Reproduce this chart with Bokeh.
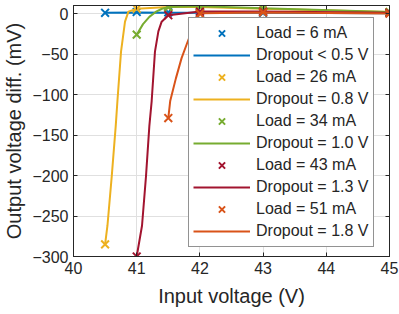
from bokeh.plotting import figure
from bokeh.models import (Range1d, FixedTicker, LinearAxis, Legend, LegendItem,
                          CustomLabelingPolicy)
from bokeh.embed import file_html
from bokeh.resources import INLINE

# ---- data ----
x_ticks = [40, 41, 42, 43, 44, 45]
y_ticks = [-300, -250, -200, -150, -100, -50, 0]

load_labels = ["Load = 6 mA", "Load = 26 mA", "Load = 34 mA", "Load = 43 mA", "Load = 51 mA"]
dropout_labels = ["Dropout < 0.5 V", "Dropout = 0.8 V", "Dropout = 1.0 V", "Dropout = 1.3 V", "Dropout = 1.8 V"]
colors = ["#0072BD", "#EDB120", "#77AC30", "#A2142F", "#D95319"]

# measured points (markers)
m6_x = [40.5, 41, 41.5, 42, 43, 45]
m6_y = [1, 2, 1.5, 1, 1, 0.5]
m26_x = [40.5, 41, 41.5, 42, 43, 45]
m26_y = [-285, 6, 8, 8, 6, 2]
m34_x = [41, 41.5, 42, 43, 45]
m34_y = [-26, 8, 9, 6.5, 2]
m43_x = [41, 41.5, 42, 43, 45]
m43_y = [-300, -2, 2.5, 2.5, 1]
m51_x = [41.5, 42, 43, 45]
m51_y = [-129, 0, 1.5, 0]

# fitted curves
c6_x = [40.5, 41, 41.5, 42, 43, 45]
c6_y = [1, 1.5, 1.2, 1, 1, 0.5]
c26_x = [40.5, 40.537, 40.605, 40.668, 40.695, 40.752, 40.815, 40.869, 41, 41.5, 42, 43, 45]
c26_y = [-285, -262, -201, -139, -108, -47, -10, 2.5, 6, 8, 8, 6, 2]
c34_x = [41, 41.1, 41.2, 41.3, 41.4, 41.5, 42, 43, 45]
c34_y = [-26, -13, -4, 2, 6, 8, 9, 6.5, 2]
c43_x = [41, 41.084, 41.147, 41.2, 41.237, 41.289, 41.343, 41.395, 41.5, 42, 43, 45]
c43_y = [-300, -262, -201, -139, -108, -47, -22, -10, -2, 2.5, 2.5, 1]
c51_x = [41.5, 41.53, 41.62, 41.71, 41.8, 41.87, 41.93, 42, 43, 45]
c51_y = [-129, -108, -80, -55, -36, -22, -9, 0.5, 1.5, 0]

markers = [(m6_x, m6_y), (m26_x, m26_y), (m34_x, m34_y), (m43_x, m43_y), (m51_x, m51_y)]
curves = [(c6_x, c6_y), (c26_x, c26_y), (c34_x, c34_y), (c43_x, c43_y), (c51_x, c51_y)]

FONT = "Liberation Sans"
AX = "#262626"

p = figure(width=399, height=314, output_backend="svg", toolbar_location=None,
           x_range=Range1d(40, 45), y_range=Range1d(-300, 10),
           min_border_left=72, min_border_right=10, min_border_top=5, min_border_bottom=58,
           background_fill_color="white", border_fill_color="white")

p.outline_line_color = AX
p.outline_line_width = 1
p.outline_line_alpha = 1

for ax in (p.xaxis, p.yaxis):
    ax.major_tick_in = 4
    ax.major_tick_out = 0
    ax.minor_tick_line_color = None
    ax.axis_line_color = AX
    ax.major_tick_line_color = AX
    ax.major_label_text_font = FONT
    ax.major_label_text_font_size = "16px"
    ax.major_label_text_color = AX
    ax.axis_label_text_font = FONT
    ax.axis_label_text_font_size = "20px"
    ax.axis_label_text_font_style = "normal"
    ax.axis_label_text_color = AX

p.xaxis.ticker = FixedTicker(ticks=x_ticks)
p.yaxis.ticker = FixedTicker(ticks=y_ticks)
p.xaxis.axis_label = "Input voltage (V)"
p.yaxis.axis_label = "Output voltage diff. (mV)"
p.xaxis.major_label_standoff = 5
p.yaxis.major_label_standoff = 5
p.xaxis.axis_label_standoff = 8
p.yaxis.axis_label_standoff = 4

hide_all = CustomLabelingPolicy(code="""
for (const i of indices) { indices.unset(i) }
return indices
""")

for loc, ticks in (("above", x_ticks), ("right", y_ticks)):
    a = LinearAxis(ticker=FixedTicker(ticks=ticks), major_label_text_font_size="1px",
                   major_label_policy=hide_all,
                   major_tick_in=4, major_tick_out=0, minor_tick_line_color=None,
                   major_label_standoff=0, axis_line_color=AX, major_tick_line_color=AX)
    p.add_layout(a, loc)

p.xgrid.ticker = FixedTicker(ticks=x_ticks)
p.ygrid.ticker = FixedTicker(ticks=y_ticks)
p.xgrid.grid_line_color = "#e0e0e0"
p.ygrid.grid_line_color = "#e0e0e0"

items = []
for (mx, my), (cx, cy), col, ll, dl in zip(markers, curves, colors, load_labels, dropout_labels):
    ln = p.line(cx, cy, line_color=col, line_width=2)
    sc = p.scatter(mx, my, marker="x", size=11, line_color=col, line_width=2)
    items.append(LegendItem(label=ll, renderers=[sc]))
    items.append(LegendItem(label=dl, renderers=[ln]))

legend = Legend(items=items, location=(115, 9),
                label_text_font=FONT, label_text_font_size="16px", label_text_color=AX,
                glyph_width=57, glyph_height=22, label_height=22, spacing=0,
                padding=4, margin=0, label_standoff=6,
                border_line_color=AX, border_line_width=1,
                background_fill_color="white", background_fill_alpha=1)
p.add_layout(legend)

open("out.html", "w").write(file_html(p, INLINE))
